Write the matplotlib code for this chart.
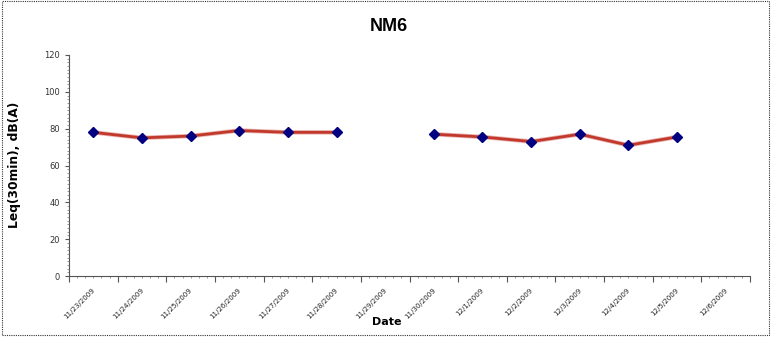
import matplotlib
matplotlib.use('Agg')
import matplotlib.pyplot as plt
import numpy as np
from matplotlib.ticker import MultipleLocator, FixedLocator
from matplotlib.patches import Rectangle

dates = ['11/23/2009', '11/24/2009', '11/25/2009', '11/26/2009', '11/27/2009',
         '11/28/2009', '11/29/2009', '11/30/2009', '12/1/2009', '12/2/2009',
         '12/3/2009', '12/4/2009', '12/5/2009', '12/6/2009']
leq = [78, 75, 76, 79, 78, 78, np.nan, 77, 75.5, 73, 77, 71, 75.5, np.nan]

fig = plt.figure(figsize=(7.71, 3.37), dpi=100)
ax = fig.add_axes([0.0895, 0.181, 0.8833, 0.6558])

x = np.arange(len(dates))
ax.plot(x, leq, color='#E08080', lw=3.2, alpha=0.6, zorder=2)
ax.plot(x, leq, color='#C0392B', lw=2.0, zorder=2)
ax.plot(x, leq, linestyle='none', marker='D', ms=4.8, color='#000080', zorder=3)

ax.set_xlim(-0.5, len(dates) - 0.5)
ax.set_ylim(0, 120)
ax.yaxis.set_major_locator(MultipleLocator(20))
ax.yaxis.set_minor_locator(MultipleLocator(2))

# category boundaries for major ticks, labels at category centers
ax.xaxis.set_major_locator(FixedLocator(np.arange(len(dates) + 1) - 0.5))
ax.xaxis.set_minor_locator(MultipleLocator(1 / 6))
ax.set_xticklabels([''] * (len(dates) + 1))
for i, d in enumerate(dates):
    ax.annotate(d, xy=(i, 0), xycoords=('data', 'axes fraction'),
                xytext=(-1, -8), textcoords='offset points',
                rotation=45, ha='right', va='top', rotation_mode='anchor',
                fontsize=5.1, color='#222222')

ax.tick_params(axis='y', labelsize=6, length=3, color='#555555', labelcolor='#333333')
ax.tick_params(axis='y', which='minor', length=1.5, color='#888888')
ax.tick_params(axis='x', which='major', length=4, color='#555555')
ax.tick_params(axis='x', which='minor', length=1.5, color='#888888')

for s in ['top', 'right']:
    ax.spines[s].set_visible(False)
for s in ['left', 'bottom']:
    ax.spines[s].set_color('#555555')
    ax.spines[s].set_linewidth(0.8)

fig.text(0.504, 0.92, 'NM6', ha='center', va='center', fontsize=13,
         fontweight='bold', family='Liberation Sans')
fig.text(0.019, 0.51, 'Leq(30min), dB(A)', ha='center', va='center',
         rotation=90, fontsize=8.8, fontweight='bold')
fig.text(0.502, 0.045, 'Date', ha='center', va='center', fontsize=8,
         fontweight='bold')

fig.patches.append(Rectangle((0.002, 0.006), 0.995, 0.99, transform=fig.transFigure,
                             fill=False, linestyle=(0, (1, 1)), lw=0.8,
                             edgecolor='#333333'))

fig.savefig('out.png', dpi=100)
